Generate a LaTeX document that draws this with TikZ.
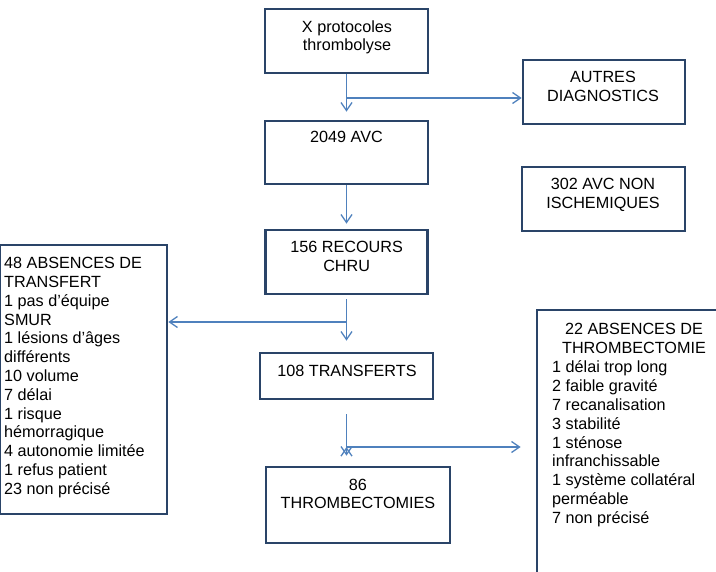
\documentclass[tikz,border=0pt]{standalone}
\usepackage{fontspec}
\setmainfont{Liberation Sans}
\usetikzlibrary{arrows.meta}
\definecolor{boxblue}{HTML}{2A4468}
\definecolor{arrowblue}{HTML}{4F81BD}
\begin{document}
\begin{tikzpicture}[
        x=1pt, y=-1pt,
        box/.style={draw=boxblue, line width=2.7pt, rectangle, inner sep=0pt},
        txt/.style={inner sep=0pt, align=center, font=\fontsize{16.2}{18.8}\selectfont},
        ar/.style={-{Straight Barb[length=8pt, width=11pt]}, draw=arrowblue, line width=1.3pt},
    ]
    \useasboundingbox (0,0) rectangle (716,572);

    % boxes
    \node[box, minimum width=163pt, minimum height=64pt](prot) at (346.5,41) {};
    \node[box, minimum width=162pt, minimum height=64pt](autres) at (604,92) {};
    \node[box, minimum width=163pt, minimum height=63pt](avc) at (346.5,152.5) {};
    \node[box, minimum width=163pt, minimum height=64pt](nonisch) at (603.5,199) {};
    \node[box, minimum width=162pt, minimum height=64pt](recours) at (346.5,262) {};
    \node[box, minimum width=173pt, minimum height=46pt](transf) at (346.5,376) {};
    \node[box, minimum width=184pt, minimum height=76pt](thromb) at (358,505) {};
    \node[box, minimum width=167.5pt, minimum height=269pt](absent) at (83.25,379.5) {};
    \node[box, minimum width=183pt, minimum height=265pt](absth) at (628.5,442.5) {};

    % texts
    \node[txt, anchor=north](prot-t) at (347,20.2) {X protocoles\\thrombolyse};
    \node[txt, anchor=north](autres-t) at (603,70.9) {AUTRES\\DIAGNOSTICS};
    \node[txt, anchor=north](avc-t) at (346.5,130.9) {2049 AVC};
    \node[txt, anchor=north](nonisch-t) at (603,178.2) {302 AVC NON\\ISCHEMIQUES};
    \node[txt, anchor=north](recours-t) at (346.7,240.9) {156 RECOURS\\CHRU};
    \node[txt, anchor=north](transf-t) at (347,364.9) {108 TRANSFERTS};
    \node[txt, anchor=north](thromb-t) at (358,478.5) {86\\THROMBECTOMIES};
    \node[txt, anchor=north west, align=left](absent-t) at (4,257.2) {48 ABSENCES DE\\TRANSFERT\\1 pas d’équipe\\SMUR\\1 lésions d’âges\\différents\\10 volume\\7 délai\\1 risque\\hémorragique\\4 autonomie limitée\\1 refus patient\\23 non précisé};
    \node[txt, anchor=north](absth-t) at (634,323.2) {22 ABSENCES DE\\THROMBECTOMIE};
    \node[txt, anchor=north west, align=left](raisons-t) at (552,360.7) {1 délai trop long\\2 faible gravité\\7 recanalisation\\3 stabilité\\1 sténose\\infranchissable\\1 système collatéral\\perméable\\7 non précisé};

    \coordinate (j1) at (346.5,98);
    \coordinate (j2) at (346.5,322);
    \coordinate (j3) at (346.5,447);

    \path[ar]
    (prot) edge[shorten >=8pt] (avc)
    (j1) edge (j1 -| autres.west)
    (avc) edge[shorten >=5pt] (recours)
    (recours) edge[shorten <=4pt, shorten >=11pt] (transf)
    (j2) edge (j2 -| absent.east)
    (transf.south) edge[shorten <=14pt, shorten >=10pt] (transf.south |- thromb.north)
    (j3) edge[shorten >=15pt] (j3 -| absth.west)
    ;
\end{tikzpicture}
\end{document}
